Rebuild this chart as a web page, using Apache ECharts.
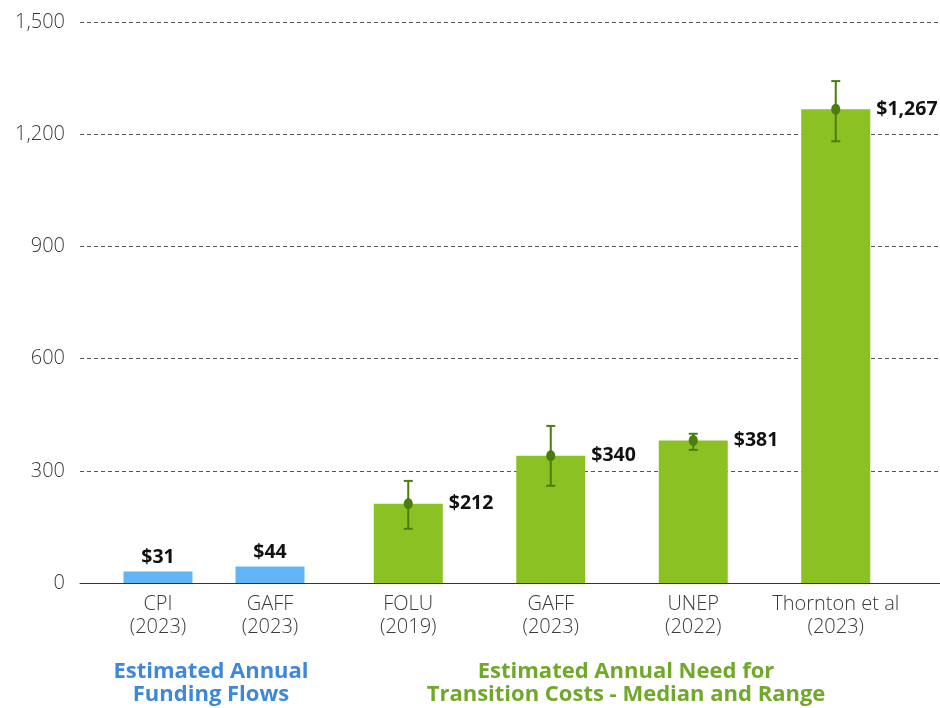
<!DOCTYPE html>
<html>
<head>
<meta charset="utf-8">
<script src="https://cdn.jsdelivr.net/npm/echarts@6/dist/echarts.min.js"></script>
<style>
  html, body { margin: 0; padding: 0; background: #fff; }
  #chart { width: 940px; height: 708px; }
</style>
</head>
<body>
<div id="chart"></div>
<script>
  // data
  const flowCategories = ['CPI\n(2023)', 'GAFF\n(2023)']
  const flowValues = [31, 44]
  const needCategories = ['FOLU\n(2019)', 'GAFF\n(2023)', 'UNEP\n(2022)', 'Thornton et al\n(2023)']
  const needValues = [212, 340, 381, 1267]
  const needLow = [145, 260, 356, 1181]
  const needHigh = [273, 420, 399, 1342]
  const yTicks = [0, 300, 600, 900, 1200, 1500]

  const font = '"Open Sans", "Noto Sans", sans-serif'
  const blue = '#64b5f6'
  const green = '#8cc124'
  const darkGreen = '#4b7d0b'
  const yMax = yTicks[yTicks.length - 1]
  const yStep = yTicks[1] - yTicks[0]

  const fmt = (v) => '$' + v.toLocaleString('en-US')

  const chart = echarts.init(document.getElementById('chart'))

  const hiddenY = (i) => ({
    type: 'value',
    gridIndex: i,
    min: 0,
    max: yMax,
    interval: yStep,
    show: false,
  })

  const catX = (i, data) => ({
    type: 'category',
    gridIndex: i,
    data: data,
    axisLine: { show: false },
    axisTick: { show: false },
    axisLabel: {
      interval: 0,
      color: '#3a3a3a',
      fontFamily: font,
      fontSize: 20,
      fontWeight: 300,
      lineHeight: 23,
      margin: 10,
    },
  })

  const valueLabel = {
    show: true,
    color: '#111',
    fontFamily: font,
    fontWeight: 'bold',
    fontSize: 19.5,
    formatter: (p) => fmt(p.value),
  }

  chart.setOption({
    animation: false,
    grid: [
      { left: 80, right: 0, top: 22, bottom: 125 },
      { left: 102, width: 224, top: 22, bottom: 125 },
      { left: 337, width: 570, top: 22, bottom: 125 },
    ],
    xAxis: [
      {
        type: 'value',
        gridIndex: 0,
        min: 0,
        max: 1,
        axisLine: { show: true, onZero: true, lineStyle: { color: '#333', width: 1 } },
        axisTick: { show: false },
        axisLabel: { show: false },
        splitLine: { show: false },
      },
      catX(1, flowCategories),
      catX(2, needCategories),
    ],
    yAxis: [
      {
        type: 'value',
        gridIndex: 0,
        min: 0,
        max: yMax,
        interval: yStep,
        axisLine: { show: false },
        axisTick: { show: false },
        axisLabel: {
          color: '#3a3a3a',
          fontFamily: font,
          fontSize: 20,
          fontWeight: 300,
          margin: 15,
          formatter: (v) => v.toLocaleString('en-US'),
        },
        splitLine: { lineStyle: { color: '#555', type: [4, 3], width: 1 } },
      },
      hiddenY(1),
      hiddenY(2),
    ],
    series: [
      {
        type: 'bar',
        xAxisIndex: 1,
        yAxisIndex: 1,
        data: flowValues,
        barWidth: 69,
        itemStyle: { color: blue },
        label: Object.assign({}, valueLabel, { position: 'top', distance: 4 }),
      },
      {
        type: 'bar',
        xAxisIndex: 2,
        yAxisIndex: 2,
        data: needValues,
        barWidth: 69,
        itemStyle: { color: green },
        label: Object.assign({}, valueLabel, {
          position: ['100%', 0],
          offset: [6, 0],
          align: 'left',
          verticalAlign: 'middle',
        }),
      },
      {
        // median point + range whiskers
        type: 'custom',
        xAxisIndex: 2,
        yAxisIndex: 2,
        z: 5,
        data: needValues.map((v, i) => [i, needLow[i], needHigh[i], v]),
        renderItem: (params, api) => {
          const i = api.value(0)
          const lo = api.coord([i, api.value(1)])
          const hi = api.coord([i, api.value(2)])
          const mid = api.coord([i, api.value(3)])
          const cap = 4.5
          const style = { stroke: darkGreen, lineWidth: 2 }
          return {
            type: 'group',
            children: [
              { type: 'line', shape: { x1: lo[0], y1: lo[1], x2: hi[0], y2: hi[1] }, style: style },
              { type: 'line', shape: { x1: hi[0] - cap, y1: hi[1], x2: hi[0] + cap, y2: hi[1] }, style: style },
              { type: 'line', shape: { x1: lo[0] - cap, y1: lo[1], x2: lo[0] + cap, y2: lo[1] }, style: style },
              { type: 'ellipse', shape: { cx: mid[0], cy: mid[1], rx: 4.5, ry: 5.5 }, style: { fill: darkGreen } },
            ],
          }
        },
      },
    ],
    graphic: [
      {
        type: 'text',
        x: 211,
        y: 660,
        style: {
          text: 'Estimated Annual\nFunding Flows',
          align: 'center',
          verticalAlign: 'top',
          fill: '#3f87d8',
          font: 'bold 22px ' + font,
          lineHeight: 23,
        },
      },
      {
        type: 'text',
        x: 626,
        y: 660,
        style: {
          text: 'Estimated Annual Need for\nTransition Costs - Median and Range',
          align: 'center',
          verticalAlign: 'top',
          fill: '#70a82a',
          font: 'bold 22px ' + font,
          lineHeight: 23,
        },
      },
    ],
  })
</script>
</body>
</html>
